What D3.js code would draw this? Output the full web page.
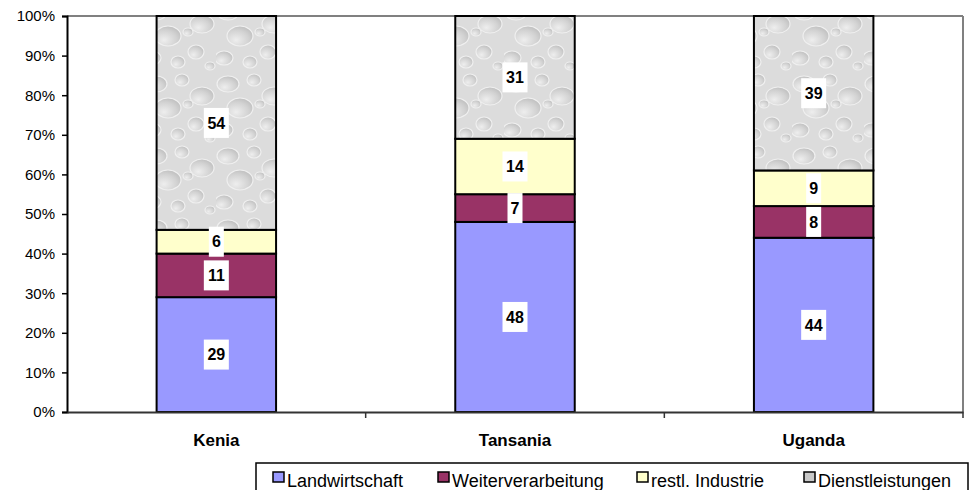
<!DOCTYPE html>
<html>
<head>
<meta charset="utf-8">
<script src="https://cdn.jsdelivr.net/npm/d3@7"></script>
<style>
  body { margin: 0; background: #fff; }
  text { font-family: Arial, "Liberation Sans", sans-serif; }
</style>
</head>
<body>
<div id="chart"></div>
<script>
var categories = ["Kenia", "Tansania", "Uganda"]
var seriesNames = ["Landwirtschaft", "Weiterverarbeitung", "restl. Industrie", "Dienstleistungen"]
var landwirtschaft = [29, 48, 44]
var weiterverarbeitung = [11, 7, 8]
var restlIndustrie = [6, 14, 9]
var dienstleistungen = [54, 31, 39]
var yTicks = [0, 10, 20, 30, 40, 50, 60, 70, 80, 90, 100]

var colors = ["#9999ff", "#993366", "#ffffcc", "url(#drops)"]
var seriesValues = [landwirtschaft, weiterverarbeitung, restlIndustrie, dienstleistungen]

var width = 976, height = 490
var plotLeft = 67, plotRight = 963, plotTop = 16, plotBottom = 412

var svg = d3.select("#chart").append("svg")
  .attr("width", width)
  .attr("height", height)

// water drop texture for the service segment
var defs = svg.append("defs")
var rg = defs.append("radialGradient").attr("id", "drop")
  .attr("cx", "35%").attr("cy", "70%").attr("r", "70%")
rg.append("stop").attr("offset", "0%").attr("stop-color", "#eeeeee")
rg.append("stop").attr("offset", "70%").attr("stop-color", "#d2d2d2")
rg.append("stop").attr("offset", "100%").attr("stop-color", "#c2c2c2")
var pat = defs.append("pattern").attr("id", "drops")
  .attr("patternUnits", "userSpaceOnUse")
  .attr("width", 72).attr("height", 72)
pat.append("rect").attr("width", 72).attr("height", 72).attr("fill", "#dcdcdc")
var bubbles = [[12, 12, 11, 8], [38, 8, 7, 6], [58, 24, 12, 9], [24, 36, 13, 10],
  [52, 52, 8, 7], [8, 58, 9, 7], [34, 62, 7, 6], [66, 66, 5, 4], [44, 32, 5, 4]]
pat.selectAll("ellipse").data(bubbles).enter().append("ellipse")
  .attr("cx", function(d) { return d[0] })
  .attr("cy", function(d) { return d[1] })
  .attr("rx", function(d) { return d[2] })
  .attr("ry", function(d) { return d[3] })
  .attr("fill", "url(#drop)")
  .attr("stroke", "#f0f0f0")
  .attr("stroke-width", 1.2)

var x = d3.scaleBand().domain(categories).range([plotLeft, plotRight]).paddingInner(0).paddingOuter(0)
var y = d3.scaleLinear().domain([0, 100]).range([plotBottom, plotTop])
var barW = x.bandwidth() * 0.4

// stack
var rows = categories.map(function(c, i) {
  var r = { cat: c }
  seriesNames.forEach(function(s, j) { r[s] = seriesValues[j][i] })
  return r
})
var stacked = d3.stack().keys(seriesNames)(rows)

// plot frame top / right (gray)
svg.append("line").attr("x1", plotLeft).attr("x2", plotRight).attr("y1", plotTop).attr("y2", plotTop)
  .attr("stroke", "#808080").attr("stroke-width", 2)
svg.append("line").attr("x1", plotRight).attr("x2", plotRight).attr("y1", plotTop).attr("y2", plotBottom)
  .attr("stroke", "#808080").attr("stroke-width", 2)

var layer = svg.selectAll(".layer")
  .data(stacked)
  .enter().append("g")
  .attr("class", "layer")
  .attr("fill", function(d, i) { return colors[i] })

layer.selectAll("rect")
  .data(function(d) { return d })
  .enter().append("rect")
  .attr("x", function(d) { return x(d.data.cat) + (x.bandwidth() - barW) / 2 })
  .attr("y", function(d) { return y(d[1]) })
  .attr("width", barW)
  .attr("height", function(d) { return y(d[0]) - y(d[1]) })
  .attr("stroke", "#000")
  .attr("stroke-width", 2)

// axes
var yAxis = svg.append("g")
  .attr("transform", "translate(" + plotLeft + ",0)")
  .call(d3.axisLeft(y).tickValues(yTicks).tickSize(5).tickPadding(7)
    .tickFormat(function(d) { return d + "%" }))
yAxis.select(".domain").attr("stroke", "#000").attr("stroke-width", 2)
yAxis.selectAll(".tick line").attr("stroke", "#000").attr("stroke-width", 1.5)
yAxis.selectAll("text").attr("font-size", 15).attr("fill", "#000")
  .style("font-family", "Arial, 'Liberation Sans', sans-serif")

var xAxis = svg.append("g")
  .attr("transform", "translate(0," + plotBottom + ")")
  .call(d3.axisBottom(x).tickSize(0).tickPadding(22))
xAxis.select(".domain").attr("stroke", "#333").attr("stroke-width", 2)
xAxis.selectAll("text").attr("font-size", 17).attr("font-weight", "bold").attr("fill", "#000")
  .style("font-family", "Arial, 'Liberation Sans', sans-serif")
// category separators
svg.selectAll(".sep")
  .data(categories)
  .enter().append("line")
  .attr("class", "sep")
  .attr("x1", function(d) { return x(d) + x.bandwidth() })
  .attr("x2", function(d) { return x(d) + x.bandwidth() })
  .attr("y1", plotBottom).attr("y2", plotBottom + 6)
  .attr("stroke", "#333").attr("stroke-width", 1.5)

// value labels
var labels = []
stacked.forEach(function(s) {
  s.forEach(function(d) { labels.push({ cat: d.data.cat, v: d[1] - d[0], mid: (d[0] + d[1]) / 2 }) })
})
var lab = svg.selectAll(".lab")
  .data(labels)
  .enter().append("g")
  .attr("class", "lab")
  .attr("transform", function(d) {
    return "translate(" + (x(d.cat) + x.bandwidth() / 2) + "," + y(d.mid) + ")"
  })
lab.append("rect")
  .attr("x", function(d) { return d.v >= 10 ? -12.5 : -7.5 })
  .attr("y", -15)
  .attr("width", function(d) { return d.v >= 10 ? 25 : 15 })
  .attr("height", 30)
  .attr("fill", "#fff")
lab.append("text")
  .attr("text-anchor", "middle")
  .attr("dy", "0.36em")
  .attr("font-size", 16)
  .attr("font-weight", "bold")
  .text(function(d) { return d.v })

// legend
svg.append("rect")
  .attr("x", 256).attr("y", 463).attr("width", 712).attr("height", 40)
  .attr("fill", "#fff").attr("stroke", "#000").attr("stroke-width", 1.5)
var legendX = [273, 438, 637, 804]
var leg = svg.selectAll(".leg")
  .data(seriesNames)
  .enter().append("g")
  .attr("class", "leg")
  .attr("transform", function(d, i) { return "translate(" + legendX[i] + ",0)" })
leg.append("rect")
  .attr("x", 0).attr("y", 472).attr("width", 11).attr("height", 10)
  .attr("fill", function(d, i) { return i == 3 ? "#c8c8c8" : colors[i] })
  .attr("stroke", "#000").attr("stroke-width", 1.5)
leg.append("text")
  .attr("x", 14).attr("y", 487)
  .attr("font-size", 18)
  .text(function(d) { return d })
</script>
</body>
</html>
